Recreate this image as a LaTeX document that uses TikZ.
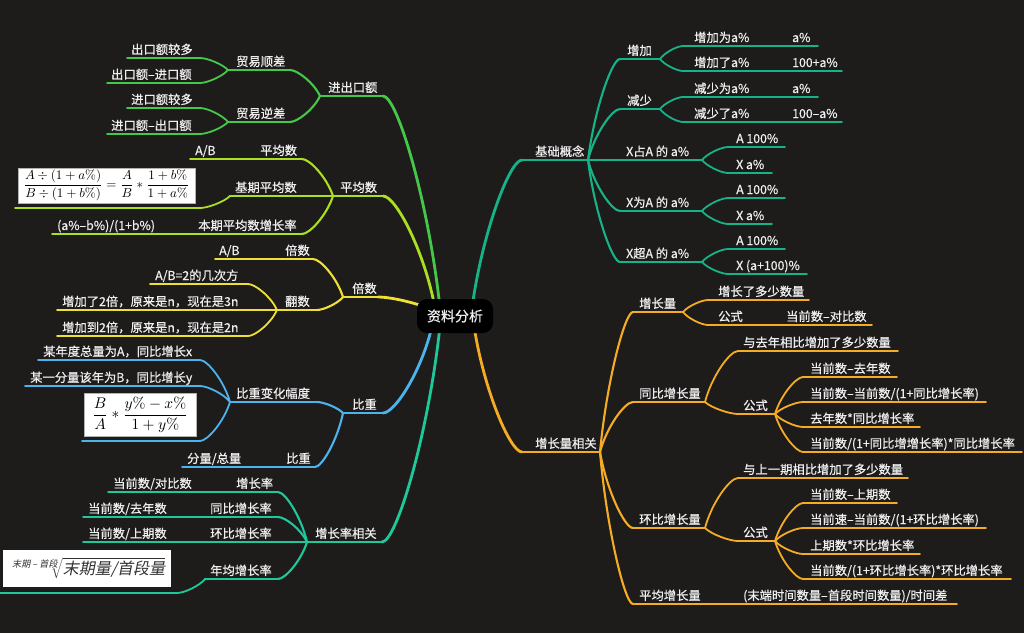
\documentclass[tikz,border=0pt]{standalone}
\usepackage{fontspec}
\usepackage{graphicx}
\usepackage{amsmath}
\newfontfamily\cjk[FakeBold=0.6]{Noto Sans CJK SC}
\newfontfamily\cjkit[FakeSlant=0.2]{Noto Sans CJK SC}
\usetikzlibrary{calc}

\definecolor{bg}{HTML}{1E1B1B}
\definecolor{fg}{HTML}{EFEFEF}
\definecolor{cTealA}{HTML}{16B388}
\definecolor{cTealB}{HTML}{1DC99A}
\definecolor{cOrange}{HTML}{F5AC25}
\definecolor{cGreen}{HTML}{45C84A}
\definecolor{cLime}{HTML}{AADF22}
\definecolor{cYellow}{HTML}{EFE035}
\definecolor{cBlue}{HTML}{4DB3EC}

\tikzset{
  main/.style={line width=2.8pt, line cap=round},
  sub/.style={line width=2.1pt, line cap=round},
  leaf/.style={line width=1.8pt, line cap=round},
  lbl/.style={text=fg, font=\cjk\fontsize{12.3}{14}\selectfont, inner sep=0pt, anchor=base west},
  fbox/.style={fill=white, draw=gray!60, line width=0.6pt, inner sep=0pt},
  rootbox/.style={fill=black, rounded corners=10pt, minimum width=76pt, minimum height=34pt,
    text=fg, font=\cjk\fontsize{14}{16}\selectfont, inner sep=0pt},
}

% topic: name, line style, start x, end x, underline y, text x, text
\newcommand\mmtopic[7]{%
  \coordinate (#1-s) at (#3,#5);
  \coordinate (#1-e) at (#4,#5);
  \draw[#2] (#1-s) -- (#1-e);
  \node[lbl] (#1) at (#6,#5-4) {#7};}
% curved connector from a junction to a child's underline end
\newcommand\mmlink[3][]{%
  \draw[#1] let \p1=(#2), \p2=(#3) in (#2) .. controls
    ({\x1+0.2*(\x2-\x1)},{\y1+0.5*(\y2-\y1)}) and ({\x2-0.25*(\x2-\x1)},{\y2}) .. (#3);}
% child on the right / left of its parent junction
\newcommand\mmR[8]{\mmtopic{#2}{#3}{#4}{#5}{#6}{#7}{#8}\mmlink[#3]{#1}{#2-s}}
\newcommand\mmL[8]{\mmtopic{#2}{#3}{#4}{#5}{#6}{#7}{#8}\mmlink[#3]{#1}{#2-e}}

\begin{document}
\begin{tikzpicture}[x=1pt,y=-1pt]
\fill[bg] (0,0) rectangle (1024,633);
\useasboundingbox (0,0) rectangle (1024,633);

% branch roots hidden under the central box
\coordinate (rR1) at (472,308);
\coordinate (rR2) at (474,326);
\coordinate (rL1) at (440,308);
\coordinate (rL2) at (435,308);
\coordinate (rL3) at (440,314);
\coordinate (rL4) at (432,326);
\coordinate (rL5) at (440,326);

% ---------- 基础概念 ----------
\mmtopic{ja}{main,cTealA}{522}{588}{160}{535}{基础概念}
\mmlink[main,cTealA]{rR1}{ja-s}
\mmR{ja-e}{jb}{sub,cTealA}{620}{660}{59}{627}{增加}
\mmR{jb-e}{jb1}{leaf,cTealA}{683}{753}{46}{694}{增加为a\%}
\mmR{jb1-e}{jb1a}{leaf,cTealA}{753}{818}{46}{792}{a\%}
\mmR{jb-e}{jb2}{leaf,cTealA}{683}{753}{71}{694}{增加了a\%}
\mmR{jb2-e}{jb2a}{leaf,cTealA}{753}{842}{71}{792}{100+a\%}
\mmR{ja-e}{jc}{sub,cTealA}{620}{660}{109}{627}{减少}
\mmR{jc-e}{jc1}{leaf,cTealA}{683}{753}{97}{694}{减少为a\%}
\mmR{jc1-e}{jc1a}{leaf,cTealA}{753}{818}{97}{792}{a\%}
\mmR{jc-e}{jc2}{leaf,cTealA}{683}{753}{122}{694}{减少了a\%}
\mmR{jc2-e}{jc2a}{leaf,cTealA}{753}{842}{122}{792}{100–a\%}
\mmR{ja-e}{jd}{sub,cTealA}{588}{702}{160}{626}{X占A 的 a\%}
\mmR{jd-e}{jd1}{leaf,cTealA}{728}{785}{147}{736}{A 100\%}
\mmR{jd-e}{jd2}{leaf,cTealA}{728}{772}{173}{736}{X a\%}
\mmR{ja-e}{je}{sub,cTealA}{620}{702}{211}{626}{X为A 的 a\%}
\mmR{je-e}{je1}{leaf,cTealA}{728}{785}{198}{736}{A 100\%}
\mmR{je-e}{je2}{leaf,cTealA}{728}{772}{224}{736}{X a\%}
\mmR{ja-e}{jf}{sub,cTealA}{620}{702}{262}{626}{X超A 的 a\%}
\mmR{jf-e}{jf1}{leaf,cTealA}{728}{785}{249}{736}{A 100\%}
\mmR{jf-e}{jf2}{leaf,cTealA}{728}{807}{274}{736}{X (a+100)\%}

% ---------- 增长量相关 ----------
\mmtopic{za}{main,cOrange}{522}{600}{452}{535}{增长量相关}
\mmlink[main,cOrange]{rR2}{za-s}
\mmR{za-e}{zb}{sub,cOrange}{633}{683}{312}{639}{增长量}
\mmR{zb-e}{zb1}{leaf,cOrange}{708}{809}{300}{718}{增长了多少数量}
\mmR{zb-e}{zb2}{leaf,cOrange}{708}{747}{325}{718}{公式}
\mmR{zb2-e}{zb2a}{leaf,cOrange}{747}{872}{325}{786}{当前数–对比数}
\mmR{za-e}{zc}{sub,cOrange}{633}{705}{402}{639}{同比增长量}
\mmR{zc-e}{zc1}{leaf,cOrange}{738}{898}{351}{743}{与去年相比增加了多少数量}
\mmR{zc-e}{zc2}{leaf,cOrange}{738}{775}{414}{743}{公式}
\mmR{zc2-e}{zc2a}{leaf,cOrange}{803}{897}{377}{810}{当前数–去年数}
\mmR{zc2-e}{zc2b}{leaf,cOrange}{803}{986}{402}{810}{当前数–当前数/(1+同比增长率)}
\mmR{zc2-e}{zc2c}{leaf,cOrange}{803}{920}{427}{810}{去年数*同比增长率}
\mmR{zc2-e}{zc2d}{leaf,cOrange}{803}{1022}{452}{810}{当前数/(1+同比增增长率)*同比增长率}
\mmR{za-e}{zd}{sub,cOrange}{633}{705}{528}{639}{环比增长量}
\mmR{zd-e}{zd1}{leaf,cOrange}{738}{908}{478}{743}{与上一期相比增加了多少数量}
\mmR{zd-e}{zd2}{leaf,cOrange}{738}{775}{541}{743}{公式}
\mmR{zd2-e}{zd2a}{leaf,cOrange}{803}{897}{503}{810}{当前数–上期数}
\mmR{zd2-e}{zd2b}{leaf,cOrange}{803}{986}{528}{810}{当前速–当前数/(1+环比增长率)}
\mmR{zd2-e}{zd2c}{leaf,cOrange}{803}{920}{554}{810}{上期数*环比增长率}
\mmR{zd2-e}{zd2d}{leaf,cOrange}{803}{1011}{579}{810}{当前数/(1+环比增长率)*环比增长率}
\mmR{za-e}{ze}{sub,cOrange}{633}{705}{604}{639}{平均增长量}
\mmR{ze-e}{ze1}{leaf,cOrange}{705}{957}{604}{743}{(末端时间数量–首段时间数量)/时间差}

% ---------- 进出口额 ----------
\mmtopic{ka}{main,cGreen}{320}{383}{96}{328}{进出口额}
\mmlink[main,cGreen]{rL1}{ka-e}
\mmL{ka-s}{kb}{sub,cGreen}{228}{290}{70}{236}{贸易顺差}
\mmL{kb-s}{kb1}{leaf,cGreen}{127}{200}{58}{131}{出口额较多}
\mmL{kb-s}{kb2}{leaf,cGreen}{107}{200}{83}{111}{出口额–进口额}
\mmL{ka-s}{kc}{sub,cGreen}{228}{290}{122}{236}{贸易逆差}
\mmL{kc-s}{kc1}{leaf,cGreen}{127}{200}{108}{131}{进口额较多}
\mmL{kc-s}{kc2}{leaf,cGreen}{107}{200}{134}{111}{进口额–出口额}

% ---------- 平均数 ----------
\mmtopic{pa}{main,cLime}{333}{383}{196}{340}{平均数}
\mmlink[main,cLime]{rL2}{pa-e}
\mmL{pa-s}{pb}{sub,cLime}{257}{302}{159}{260}{平均数}
\mmL{pb-s}{pb1}{leaf,cLime}{190}{257}{159}{195}{A/B}
\mmL{pa-s}{pc}{sub,cLime}{230}{333}{196}{235}{基期平均数}
\coordinate (pf-s) at (15,208);
\coordinate (pf-e) at (200,208);
\draw[leaf,cLime] (pf-s) -- (pf-e);
\mmlink[leaf,cLime]{pc-s}{pf-e}
\node[fbox, minimum width=177pt, minimum height=35pt] (pf) at (106.5,185.5)
  {\resizebox{166pt}{!}{$\displaystyle\frac{A\div(1+a\%)}{B\div(1+b\%)}=\frac{A}{B}*\frac{1+b\%}{1+a\%}$}};
\mmL{pa-s}{pd}{sub,cLime}{193}{302}{234}{198}{本期平均数增长率}
\mmL{pd-s}{pd1}{leaf,cLime}{52}{193}{234}{57}{(a\%–b\%)/(1+b\%)}

% ---------- 倍数 ----------
\mmtopic{ba}{main,cYellow}{343}{378}{297}{352}{倍数}
\mmlink[main,cYellow]{rL3}{ba-e}
\mmL{ba-s}{bb}{sub,cYellow}{280}{313}{259}{285}{倍数}
\mmL{bb-s}{bb1}{leaf,cYellow}{215}{280}{259}{219}{A/B}
\mmL{ba-s}{bc}{sub,cYellow}{277}{317}{310}{285}{翻数}
\mmL{bc-s}{bc1}{leaf,cYellow}{150}{248}{284}{155}{A/B=2的几次方}
\mmL{bc-s}{bc2}{leaf,cYellow}{57}{277}{310}{62}{增加了2倍，原来是n，现在是3n}
\mmL{bc-s}{bc3}{leaf,cYellow}{57}{248}{336}{62}{增加到2倍，原来是n，现在是2n}

% ---------- 比重 ----------
\mmtopic{wa}{main,cBlue}{343}{383}{413}{352}{比重}
\mmlink[main,cBlue]{rL4}{wa-e}
\mmL{wa-s}{wb}{sub,cBlue}{230}{317}{402}{236}{比重变化幅度}
\mmL{wb-s}{wb1}{leaf,cBlue}{38}{200}{360}{43}{某年度总量为A，同比增长x}
\mmL{wb-s}{wb2}{leaf,cBlue}{25}{200}{386}{30}{某一分量该年为B，同比增长y}
\coordinate (wf-s) at (82,441);
\coordinate (wf-e) at (200,441);
\draw[leaf,cBlue] (wf-s) -- (wf-e);
\mmlink[leaf,cBlue]{wb-s}{wf-e}
\node[fbox, minimum width=112pt, minimum height=43pt] (wf) at (140,414.5)
  {\resizebox{96pt}{!}{$\displaystyle\frac{B}{A}*\frac{y\%-x\%}{1+y\%}$}};
\mmL{wa-s}{wc}{sub,cBlue}{282}{315}{467}{286}{比重}
\mmL{wc-s}{wc1}{leaf,cBlue}{182}{282}{467}{187}{分量/总量}

% ---------- 增长率相关 ----------
\mmtopic{ga}{main,cTealB}{307}{382}{542}{315}{增长率相关}
\mmlink[main,cTealB]{rL5}{ga-e}
\mmL{ga-s}{gb}{sub,cTealB}{230}{278}{492}{236}{增长率}
\mmL{gb-s}{gb1}{leaf,cTealB}{108}{230}{492}{113}{当前数/对比数}
\mmL{ga-s}{gc}{sub,cTealB}{205}{278}{517}{210}{同比增长率}
\mmL{gc-s}{gc1}{leaf,cTealB}{83}{205}{517}{88}{当前数/去年数}
\mmL{ga-s}{gd}{sub,cTealB}{205}{307}{542}{210}{环比增长率}
\mmL{gd-s}{gd1}{leaf,cTealB}{83}{205}{542}{88}{当前数/上期数}
\mmL{ga-s}{ge}{sub,cTealB}{205}{278}{579}{210}{年均增长率}
\coordinate (gf-s) at (0,593);
\coordinate (gf-e) at (177,593);
\draw[leaf,cTealB] (gf-s) -- (gf-e);
\mmlink[leaf,cTealB]{ge-s}{gf-e}
\node[fbox, draw=none, minimum width=168pt, minimum height=37pt] (gf) at (87,568.5)
  {\color{black!80}\resizebox{156pt}{!}{$\sqrt[\hbox{\cjkit\fontsize{8}{8}\selectfont 末期 – 首段}]{\hbox{\cjkit\fontsize{14}{14}\selectfont 末期量/首段量}}$}};

% ---------- central topic ----------
\node[rootbox] (root) at (455,316) {资料分析};
\end{tikzpicture}
\end{document}
